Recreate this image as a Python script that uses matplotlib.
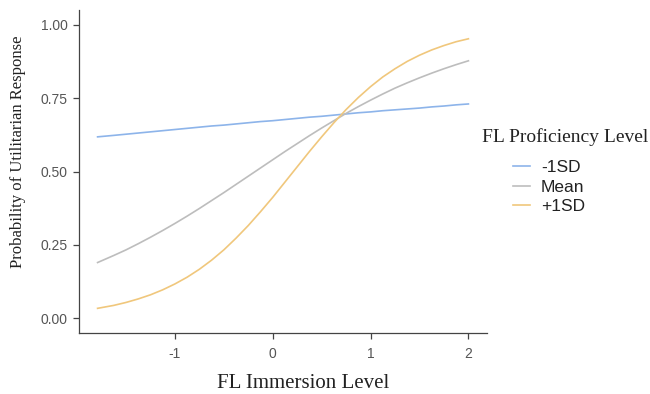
import matplotlib
matplotlib.use("Agg")
import matplotlib.pyplot as plt

# values
immersion = [-1.79, -1.625, -1.5, -1.375, -1.25, -1.125, -1.0, -0.875,
             -0.75, -0.625, -0.5, -0.375, -0.25, -0.125, 0.0, 0.125,
             0.25, 0.375, 0.5, 0.625, 0.75, 0.875, 1.0, 1.125,
             1.25, 1.375, 1.5, 1.625, 1.75, 1.875, 2.0]
minus_1sd = [0.618, 0.623, 0.627, 0.631, 0.635, 0.639, 0.643, 0.647,
             0.651, 0.655, 0.658, 0.662, 0.666, 0.670, 0.673, 0.677,
             0.681, 0.685, 0.688, 0.692, 0.696, 0.700, 0.703, 0.707,
             0.710, 0.713, 0.716, 0.720, 0.723, 0.727, 0.730]
mean_lvl = [0.190, 0.214, 0.233, 0.254, 0.276, 0.299, 0.323, 0.348,
            0.374, 0.401, 0.428, 0.456, 0.484, 0.512, 0.540, 0.568,
            0.595, 0.622, 0.648, 0.673, 0.698, 0.721, 0.743, 0.764,
            0.784, 0.802, 0.819, 0.835, 0.850, 0.864, 0.877]
plus_1sd = [0.034, 0.044, 0.054, 0.066, 0.080, 0.097, 0.117, 0.140,
            0.167, 0.198, 0.233, 0.273, 0.316, 0.363, 0.412, 0.464,
            0.516, 0.568, 0.618, 0.666, 0.711, 0.752, 0.789, 0.822,
            0.850, 0.875, 0.896, 0.914, 0.929, 0.942, 0.952]

labels = ["-1SD", "Mean", "+1SD"]
colors = ["#8db4ea", "#bdbdbd", "#f0c77c"]
xticks = [-1, 0, 1, 2]
yticks = [0.0, 0.25, 0.5, 0.75, 1.0]

W, H = 650, 394
fig = plt.figure(figsize=(6.5, 3.94), dpi=100)
ax = fig.add_axes([79 / W, 1 - 333 / H, (487 - 79) / W, (333 - 10) / H])

for ys, lab, col in zip([minus_1sd, mean_lvl, plus_1sd], labels, colors):
    ax.plot(immersion, ys, color=col, lw=1.2, label=lab)

ax.set_xlim(-1.98, 2.19)
ax.set_ylim(-0.05, 1.05)
ax.set_xticks(xticks)
ax.set_xticklabels([str(t) for t in xticks])
ax.set_yticks(yticks)
ax.set_yticklabels(["%.2f" % t for t in yticks])

for s in ["top", "right"]:
    ax.spines[s].set_visible(False)
for s in ["left", "bottom"]:
    ax.spines[s].set_color("#444444")
    ax.spines[s].set_linewidth(0.9)
ax.tick_params(colors="#444444", length=4, width=0.9, labelsize=10,
               labelcolor="#555555")
ax.tick_params(axis="x", pad=6)
ax.tick_params(axis="y", pad=4)
for t in ax.get_xticklabels() + ax.get_yticklabels():
    t.set_family("Liberation Sans")

serif = "Liberation Serif"
fig.text(303 / W, 1 - 383 / H, "FL Immersion Level", family=serif,
         fontsize=15, ha="center", va="center", color="#222222")
fig.text(18 / W, 1 - 152 / H, "Probability of Utilitarian Response",
         family=serif, fontsize=12, rotation=90, ha="center", va="center",
         color="#222222")
fig.text(482 / W, 1 - 137 / H, "FL Proficiency Level", family=serif,
         fontsize=14, ha="left", va="center", color="#222222")

leg = ax.legend(loc="upper left", bbox_to_anchor=(513 / W, 1 - 160 / H),
                bbox_transform=fig.transFigure, frameon=False,
                borderpad=0, borderaxespad=0, handlelength=1.0,
                handletextpad=0.6, labelspacing=0.25,
                prop={"family": "Liberation Sans", "size": 12.5})
for t in leg.get_texts():
    t.set_color("#222222")

fig.savefig("out.png", dpi=100)
